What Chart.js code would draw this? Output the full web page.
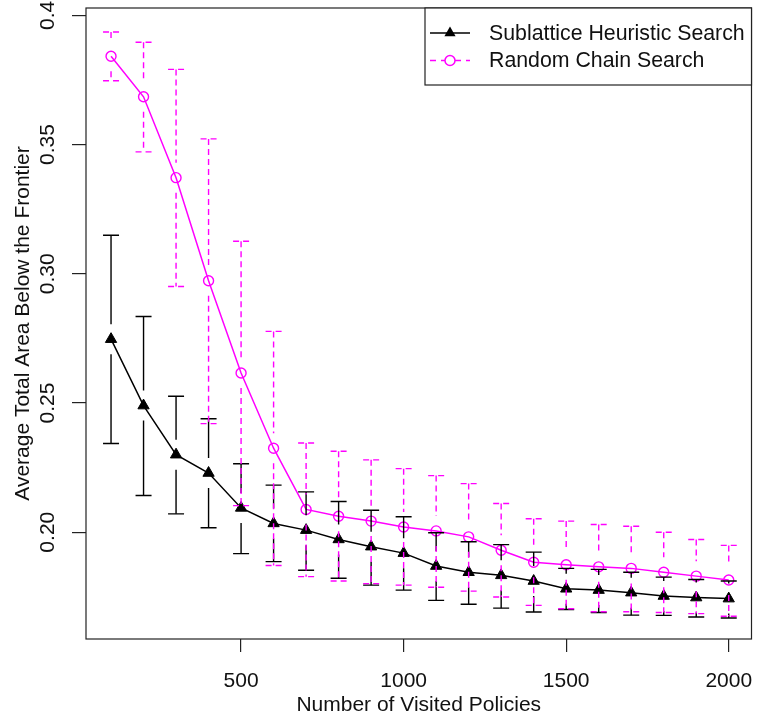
<!DOCTYPE html>
<html>
<head>
<meta charset="utf-8">
<script src="https://cdn.jsdelivr.net/npm/chart.js@4"></script>
<style>
  html, body { margin: 0; padding: 0; background: #fff; }
  canvas { display: block; }
</style>
</head>
<body>
<canvas id="mychart" width="759" height="722"></canvas>
<script>
// x values: number of visited policies
const visited = [100, 200, 300, 400, 500, 600, 700, 800, 900, 1000,
                 1100, 1200, 1300, 1400, 1500, 1600, 1700, 1800, 1900, 2000]

// Sublattice Heuristic Search: mean and error bar ends
const sublatticeMean = [0.2747, 0.2490, 0.2300, 0.2229, 0.2094, 0.2034, 0.2008, 0.1972, 0.1944, 0.1919,
                        0.1869, 0.1845, 0.1833, 0.1811, 0.1781, 0.1776, 0.1766, 0.1753, 0.1747, 0.1743]
const sublatticeHigh = [0.3149, 0.2835, 0.2526, 0.2439, 0.2265, 0.2182, 0.2156, 0.2119, 0.2085, 0.2060,
                        0.1998, 0.1963, 0.1952, 0.1923, 0.1860, 0.1856, 0.1845, 0.1826, 0.1817, 0.1811]
const sublatticeLow  = [0.2343, 0.2142, 0.2071, 0.2017, 0.1917, 0.1886, 0.1853, 0.1822, 0.1795, 0.1776,
                        0.1736, 0.1721, 0.1706, 0.1691, 0.1701, 0.1689, 0.1679, 0.1678, 0.1672, 0.1668]

// Random Chain Search: mean and error bar ends
const randomMean = [0.3842, 0.3685, 0.3372, 0.2973, 0.2616, 0.2325, 0.2088, 0.2062, 0.2043, 0.2020,
                    0.2005, 0.1982, 0.1930, 0.1884, 0.1874, 0.1866, 0.1860, 0.1845, 0.1830, 0.1815]
const randomHigh = [0.3936, 0.3896, 0.3791, 0.3522, 0.3126, 0.2777, 0.2345, 0.2313, 0.2280, 0.2246,
                    0.2219, 0.2188, 0.2111, 0.2052, 0.2043, 0.2030, 0.2023, 0.2000, 0.1972, 0.1949]
const randomLow  = [0.3747, 0.3472, 0.2951, 0.2420, 0.2103, 0.1871, 0.1828, 0.1811, 0.1801, 0.1795,
                    0.1787, 0.1772, 0.1749, 0.1717, 0.1704, 0.1692, 0.1692, 0.1689, 0.1685, 0.1675]

const seriesNames = ['Sublattice Heuristic Search', 'Random Chain Search']
const xTicks = [500, 1000, 1500, 2000]
const xTickLabels = ['500', '1000', '1500', '2000']
const yTicks = [0.20, 0.25, 0.30, 0.35, 0.40]
const yTickLabels = ['0.20', '0.25', '0.30', '0.35', '0.4']
const xTitle = 'Number of Visited Policies'
const yTitle = 'Average Total Area Below the Frontier'

const FONT = "'Liberation Sans', Arial, sans-serif"
const MAGENTA = '#ff00ff'

const bars = [
    { low: sublatticeLow, high: sublatticeHigh, color: '#000', dash: [] },
    { low: randomLow, high: randomHigh, color: MAGENTA, dash: [6, 4] }
]

// error bars with a gap round the point, like plotCI
const errorBars = {
    id: 'errorBars',
    afterDatasetsDraw(chart) {
        const ctx = chart.ctx
        const xs = chart.scales.x, ys = chart.scales.y
        const gap = 15, cap = 8
        chart.data.datasets.forEach((ds, k) => {
            const b = bars[k]
            ctx.save()
            ctx.strokeStyle = b.color
            ctx.lineWidth = 1.4
            ctx.setLineDash(b.dash)
            ds.data.forEach((pt, i) => {
                const px = xs.getPixelForValue(pt.x)
                const py = ys.getPixelForValue(pt.y)
                const top = ys.getPixelForValue(b.high[i])
                const bot = ys.getPixelForValue(b.low[i])
                ctx.beginPath()
                if (py - gap > top) { ctx.moveTo(px, top); ctx.lineTo(px, py - gap) }
                if (py + gap < bot) { ctx.moveTo(px, py + gap); ctx.lineTo(px, bot) }
                ctx.stroke()
                ctx.beginPath()
                ctx.moveTo(px - cap, top); ctx.lineTo(px + cap, top)
                ctx.moveTo(px - cap, bot); ctx.lineTo(px + cap, bot)
                ctx.stroke()
            })
            ctx.restore()
        })
    }
}

// box, rotated y labels, y title, legend (R style)
const frame = {
    id: 'frame',
    afterDraw(chart) {
        const ctx = chart.ctx
        const a = chart.chartArea
        const ys = chart.scales.y
        ctx.save()
        ctx.strokeStyle = '#222'
        ctx.lineWidth = 1.2
        ctx.strokeRect(a.left, a.top, a.right - a.left, a.bottom - a.top)

        ctx.fillStyle = '#111'
        ctx.font = '21px ' + FONT
        ctx.textAlign = 'center'
        ctx.textBaseline = 'alphabetic'
        yTicks.forEach((v, i) => {
            ctx.save()
            ctx.translate(53.5, ys.getPixelForValue(v))
            ctx.rotate(-Math.PI / 2)
            ctx.fillText(yTickLabels[i], 0, 0)
            ctx.restore()
        })
        ctx.save()
        ctx.translate(28.5, (a.top + a.bottom) / 2)
        ctx.rotate(-Math.PI / 2)
        ctx.fillText(yTitle, 0, 0)
        ctx.restore()

        // legend
        const lx = 425, ly = a.top, lw = a.right - lx, lh = 77
        ctx.fillStyle = '#fff'
        ctx.fillRect(lx, ly, lw, lh)
        ctx.strokeRect(lx, ly, lw, lh)
        const rows = [ly + 25, ly + 52.5]
        // row 1
        ctx.strokeStyle = '#000'
        ctx.lineWidth = 1.5
        ctx.beginPath(); ctx.moveTo(430, rows[0]); ctx.lineTo(470, rows[0]); ctx.stroke()
        ctx.fillStyle = '#000'
        ctx.beginPath()
        ctx.moveTo(450, rows[0] - 6.5); ctx.lineTo(455.6, rows[0] + 3.2); ctx.lineTo(444.4, rows[0] + 3.2)
        ctx.closePath(); ctx.fill()
        // row 2
        ctx.strokeStyle = MAGENTA
        ctx.setLineDash([6, 5])
        ctx.beginPath(); ctx.moveTo(430, rows[1]); ctx.lineTo(445, rows[1]); ctx.moveTo(455, rows[1]); ctx.lineTo(470, rows[1]); ctx.stroke()
        ctx.setLineDash([])
        ctx.beginPath(); ctx.arc(450, rows[1], 5, 0, Math.PI * 2); ctx.stroke()

        ctx.fillStyle = '#111'
        ctx.font = '21.3px ' + FONT
        ctx.textAlign = 'left'
        ctx.textBaseline = 'middle'
        seriesNames.forEach((n, i) => ctx.fillText(n, 489, rows[i] + 1))
        ctx.restore()
    }
}

const ctx = document.getElementById('mychart').getContext('2d')
const chart = new Chart(ctx, {
    type: 'line',
    data: {
        datasets: [
            {
                label: seriesNames[0],
                data: visited.map((v, i) => ({ x: v, y: sublatticeMean[i] })),
                borderColor: '#000',
                backgroundColor: '#000',
                borderWidth: 1.5,
                pointStyle: 'triangle',
                pointRadius: 6.5,
                pointBorderWidth: 1,
                tension: 0
            },
            {
                label: seriesNames[1],
                data: visited.map((v, i) => ({ x: v, y: randomMean[i] })),
                borderColor: MAGENTA,
                backgroundColor: 'rgba(0,0,0,0)',
                borderWidth: 1.5,
                pointStyle: 'circle',
                pointRadius: 5,
                pointBorderWidth: 1.4,
                tension: 0
            }
        ]
    },
    options: {
        responsive: false,
        animation: false,
        devicePixelRatio: 1,
        layout: { padding: { top: 8, right: 4, left: 0, bottom: 0 } },
        plugins: {
            legend: { display: false },
            tooltip: { enabled: false }
        },
        scales: {
            x: {
                type: 'linear',
                min: 23,
                max: 2070,
                afterBuildTicks: s => { s.ticks = xTicks.map(v => ({ value: v })) },
                afterFit: s => { s.height = 83; s.paddingLeft = 0; s.paddingRight = 0 },
                grid: { drawOnChartArea: false, drawTicks: true, tickLength: 13, color: '#222', lineWidth: 1.2 },
                border: { display: false },
                ticks: {
                    color: '#111', font: { family: FONT, size: 21 }, padding: 17, maxRotation: 0,
                    callback: v => xTickLabels[xTicks.indexOf(v)]
                },
                title: { display: true, text: xTitle, color: '#111', font: { family: FONT, size: 21 }, padding: { top: 0, bottom: 4 } }
            },
            y: {
                type: 'linear',
                min: 0.15867,
                max: 0.40286,
                afterBuildTicks: s => { s.ticks = yTicks.map(v => ({ value: v })) },
                afterFit: s => { s.width = 86 },
                grid: { drawOnChartArea: false, drawTicks: true, tickLength: 14, color: '#222', lineWidth: 1.2 },
                border: { display: false },
                ticks: { display: false }
            }
        }
    },
    plugins: [errorBars, frame]
})
</script>
</body>
</html>
